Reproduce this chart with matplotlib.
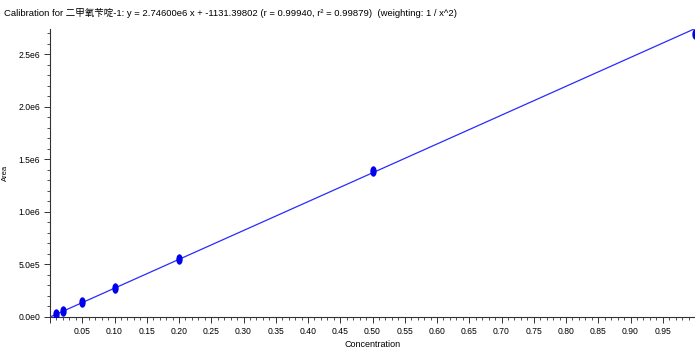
import numpy as np
import matplotlib.pyplot as plt
from matplotlib.path import Path
from matplotlib.ticker import MultipleLocator, FuncFormatter

# calibration standards (concentration, peak area)
conc = [0.01, 0.02, 0.05, 0.10, 0.20, 0.50, 1.00]
area = [2.8e4, 5.6e4, 1.38e5, 2.79e5, 5.52e5, 1.385e6, 2.69e6]
slope = 2.74600e6
intercept = -1131.39802

title = ("Calibration for 二甲氧苄啶-1: y = 2.74600e6 x + -1131.39802 "
         "(r = 0.99940, r² = 0.99879)  (weighting: 1 / x^2)")

plt.rcParams['font.family'] = ['Liberation Sans', 'Noto Sans CJK SC', 'DejaVu Sans']

fig = plt.figure(figsize=(6.95, 3.49), dpi=100)
ax = fig.add_axes([0.072, 0.092, 0.928, 0.826])

# fitted line
xl = np.array([0.0, 1.0])
ax.plot(xl, slope * xl + intercept, color='#2a2aff', lw=0.9, zorder=2)

# tall ellipse marker like the original software
t = np.linspace(0, 2 * np.pi, 40)
ell = Path(np.column_stack([0.55 * np.cos(t), np.sin(t)]))
ax.plot(conc, area, ls='none', marker=ell, ms=6.5, color='#0000ee', zorder=3)

ax.set_xlim(0, 1.0)
ax.set_ylim(0, 2.745e6)

ax.xaxis.set_major_locator(MultipleLocator(0.05))
ax.xaxis.set_minor_locator(MultipleLocator(0.01))
ax.yaxis.set_major_locator(MultipleLocator(5e5))
ax.yaxis.set_minor_locator(MultipleLocator(1e5))

def xfmt(v, pos):
    if v < 0.001 or v > 0.999:
        return ''
    return '%.2f' % v

def yfmt(v, pos):
    if v <= 0:
        return '0.0e0' if abs(v) < 1 else ''
    e = int(np.floor(np.log10(v)))
    return '%.1fe%d' % (v / 10 ** e, e)

ax.xaxis.set_major_formatter(FuncFormatter(xfmt))
ax.yaxis.set_major_formatter(FuncFormatter(yfmt))

ax.tick_params(which='major', length=4, width=0.7, labelsize=6.2, color='#333333', pad=3)
ax.tick_params(which='minor', length=2, width=0.6, color='#333333')

for s in ['top', 'right']:
    ax.spines[s].set_visible(False)
for s in ['left', 'bottom']:
    ax.spines[s].set_color('#333333')
    ax.spines[s].set_linewidth(0.8)

ax.set_xlabel('Concentration', fontsize=6.5, labelpad=3)
ax.set_ylabel('Area', fontsize=5.5)
ax.yaxis.set_label_coords(-0.063, 0.5)

fig.text(0.006, 0.962, title, fontsize=6.8, va='center', ha='left')

fig.savefig('out.png', dpi=100)
